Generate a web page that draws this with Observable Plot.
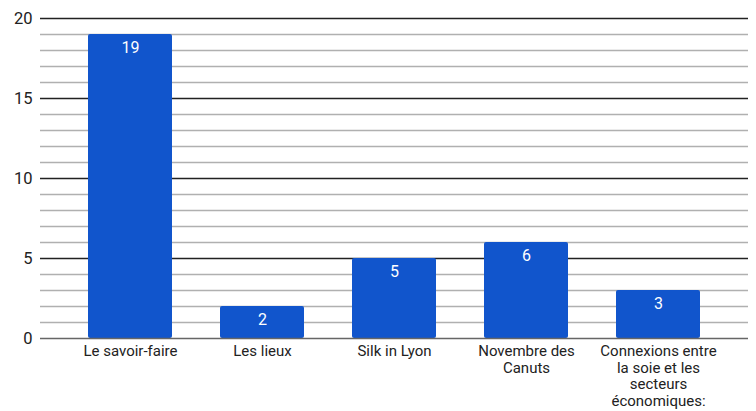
<!DOCTYPE html>
<html>
<head>
<meta charset="utf-8">
<script src="https://cdn.jsdelivr.net/npm/d3@7"></script>
<script src="https://cdn.jsdelivr.net/npm/@observablehq/plot@0.6"></script>
<style>
  html, body { margin: 0; padding: 0; background: #fff; }
  #chart svg { display: block; }
</style>
</head>
<body>
<div id="chart"></div>
<script>
// Number of responses per theme
const categories = [
  "Le savoir-faire",
  "Les lieux",
  "Silk in Lyon",
  "Novembre des Canuts",
  "Connexions entre la soie et les secteurs économiques:"
];
const counts = [19, 2, 5, 6, 3];
// Category labels as wrapped on the axis
const categoryLabels = [
  "Le savoir-faire",
  "Les lieux",
  "Silk in Lyon",
  "Novembre des\nCanuts",
  "Connexions entre\nla soie et les\nsecteurs\néconomiques:"
];
const majorTicks = [0, 5, 10, 15, 20];
const minorTicks = [1, 2, 3, 4, 6, 7, 8, 9, 11, 12, 13, 14, 16, 17, 18, 19];

const data = categories.map((c, i) => ({category: c, count: counts[i]}));
const labelOf = new Map(categories.map((c, i) => [c, categoryLabels[i]]));

const chart = Plot.plot({
  width: 756,
  height: 411,
  marginLeft: 40,
  marginRight: 8,
  marginTop: 18,
  marginBottom: 73,
  style: {fontFamily: "Roboto, sans-serif", background: "#fff"},
  x: {domain: categories, paddingInner: 0.366, paddingOuter: 0.355, label: null},
  y: {domain: [0, 20], label: null},
  marks: [
    Plot.ruleY(minorTicks, {stroke: "#b0b0b0", strokeWidth: 1.3}),
    Plot.ruleY(majorTicks.filter(d => d > 0), {stroke: "#222", strokeWidth: 1.5}),
    Plot.barY(data, {x: "category", y: "count", fill: "#1155cc", rx: 2}),
    Plot.ruleY([0], {stroke: "#666", strokeWidth: 1.7}),
    Plot.text(data, {
      x: "category", y: "count", text: d => String(d.count),
      dy: 13, fill: "#fff", fontSize: 16
    }),
    Plot.axisY(majorTicks, {
      tickSize: 0, tickPadding: 8, fontSize: 16.5, fill: "#222", label: null
    }),
    Plot.axisX({
      tickSize: 0, tickPadding: 6, fontSize: 15, fill: "#222",
      lineHeight: 1.1, tickFormat: d => labelOf.get(d), label: null
    })
  ]
});
document.getElementById("chart").append(chart);
</script>
</body>
</html>
